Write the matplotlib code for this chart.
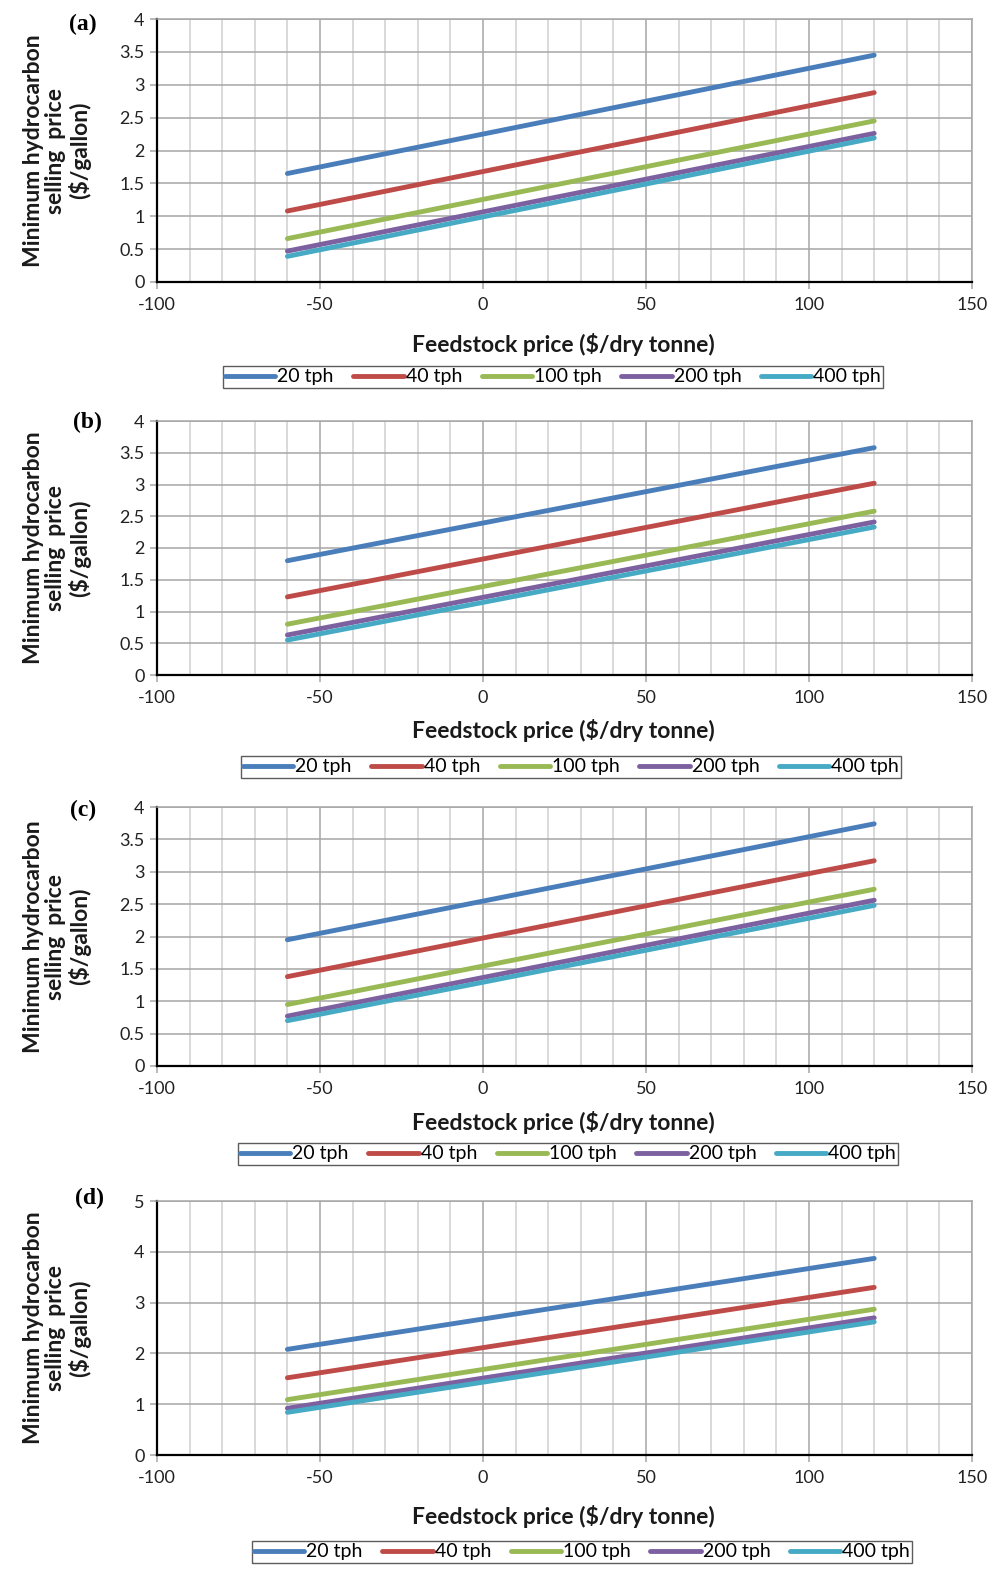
import matplotlib
matplotlib.use('Agg')
import matplotlib.pyplot as plt
from matplotlib.ticker import MultipleLocator

plt.rcParams['font.family'] = ['Lato', 'DejaVu Sans']
plt.rcParams['axes.unicode_minus'] = False

# data (values at -60 and 120 $/dry tonne)
feedstock = [-60, 120]
tph_labels = ['20 tph', '40 tph', '100 tph', '200 tph', '400 tph']
colors = ['#4A7EBB', '#BE4B48', '#98B954', '#7D60A0', '#46AAC5']

a_start = [1.65, 1.08, 0.66, 0.47, 0.39]
a_end = [3.45, 2.88, 2.45, 2.26, 2.19]
b_start = [1.80, 1.23, 0.80, 0.63, 0.55]
b_end = [3.58, 3.02, 2.58, 2.41, 2.33]
c_start = [1.95, 1.38, 0.95, 0.77, 0.70]
c_end = [3.74, 3.17, 2.73, 2.56, 2.48]
d_start = [2.08, 1.52, 1.09, 0.92, 0.84]
d_end = [3.87, 3.30, 2.87, 2.70, 2.62]

panels = [
    ('(a)', a_start, a_end, 4, 0.5),
    ('(b)', b_start, b_end, 4, 0.5),
    ('(c)', c_start, c_end, 4, 0.5),
    ('(d)', d_start, d_end, 5, 1),
]

W, H = 990, 1572
fig = plt.figure(figsize=(W / 100, H / 100), dpi=100)

# axes boxes in pixels: top, bottom
boxes = [(19, 282), (421, 675), (807, 1066), (1201, 1455)]
left_px, right_px = 157, 972
xlabel_y = [344, 730, 1123, 1516]
legend_top = [366, 756, 1143, 1541]
legend_cx = [553, 571, 568, 582]
tag_pos = [(83, 24), (87, 422), (83, 810), (90, 1198)]

grid_major = '#A6A6A6'
grid_minor = '#D0D0D0'

for i, (tag, y0, y1, ymax, ystep) in enumerate(panels):
    top, bot = boxes[i]
    ax = fig.add_axes([left_px / W, 1 - bot / H, (right_px - left_px) / W, (bot - top) / H])

    for k in range(len(tph_labels)):
        ax.plot(feedstock, [y0[k], y1[k]], color=colors[k], lw=3.5,
                solid_capstyle='round', label=tph_labels[k], zorder=3)

    ax.set_xlim(-100, 150)
    ax.set_ylim(0, ymax)
    ax.xaxis.set_major_locator(MultipleLocator(50))
    ax.xaxis.set_minor_locator(MultipleLocator(10))
    ax.yaxis.set_major_locator(MultipleLocator(ystep))
    ax.yaxis.set_major_formatter(plt.FuncFormatter(lambda v, p: f'{v:g}'))

    ax.grid(True, which='major', color=grid_major, lw=1.1, zorder=1)
    ax.grid(True, which='minor', axis='x', color=grid_minor, lw=1.1, zorder=1)
    ax.set_axisbelow(True)

    for s in ['top', 'right']:
        ax.spines[s].set_color(grid_major)
        ax.spines[s].set_linewidth(1.1)
    for s in ['left', 'bottom']:
        ax.spines[s].set_color('black')
        ax.spines[s].set_linewidth(1.6)

    ax.tick_params(which='major', direction='out', length=5, width=1.1,
                   color=grid_major, labelsize=13, labelcolor='#222222')
    ax.tick_params(axis='x', which='minor', length=0)
    ax.tick_params(axis='x', which='major', pad=6)
    ax.tick_params(axis='y', which='major', pad=4)

    ax.set_xlabel('Feedstock price ($/dry tonne)', fontsize=16.5, fontweight='bold',
                  color='#1a1a1a')
    ax.xaxis.label.set_va('center')
    ax.xaxis.set_label_coords(0.499, (bot - xlabel_y[i]) / (bot - top))

    ax.set_ylabel('Minimum hydrocarbon\nselling  price\n($/gallon)', fontsize=16.5,
                  fontweight='bold', color='#1a1a1a', linespacing=1.1)
    ax.yaxis.label.set_va('center')
    ax.yaxis.set_label_coords((57 - left_px) / (right_px - left_px), 0.5)

    fig.text(tag_pos[i][0] / W, 1 - tag_pos[i][1] / H, tag, fontsize=17,
             fontweight='bold', family='Liberation Serif', ha='center', va='center')

    leg = fig.legend(handles=ax.get_lines(), loc='upper center',
                     bbox_to_anchor=(legend_cx[i] / W, 1 - legend_top[i] / H),
                     bbox_transform=fig.transFigure, ncol=5, fontsize=14,
                     frameon=True, fancybox=False, handlelength=2.6,
                     handletextpad=0.1, columnspacing=1.0, borderpad=0.12,
                     borderaxespad=0)
    leg.get_frame().set_edgecolor('#333333')
    leg.get_frame().set_linewidth(1.0)

fig.savefig('out.png', dpi=100)
